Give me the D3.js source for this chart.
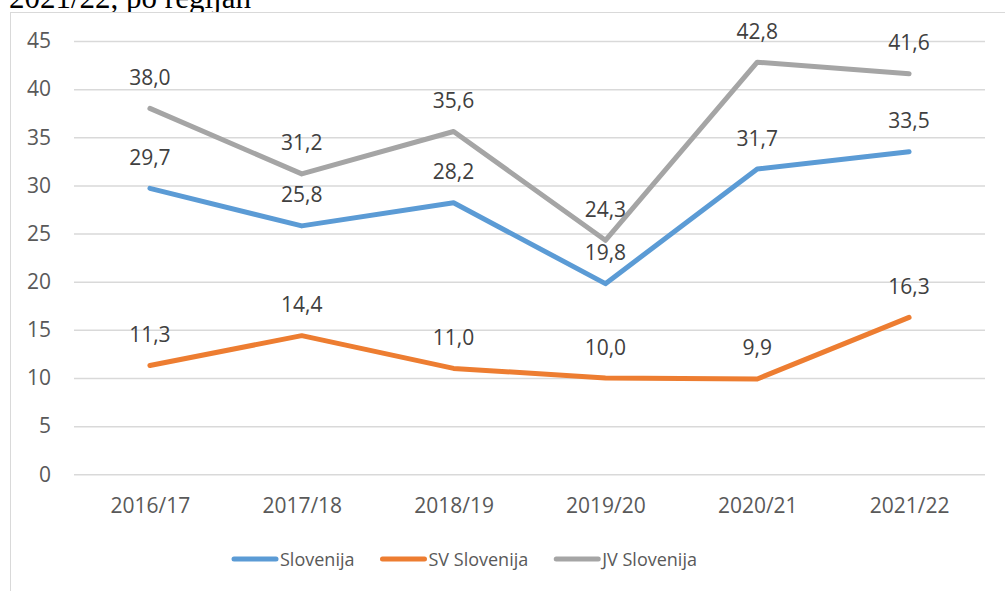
<!DOCTYPE html>
<html>
<head>
<meta charset="utf-8">
<script src="https://cdn.jsdelivr.net/npm/d3@7"></script>
<style>
  body { margin: 0; background: #fff; }
  svg { display: block; }
</style>
</head>
<body>
<svg width="1005" height="591"></svg>
<script>
// years on the x axis
var categories = ['2016/17', '2017/18', '2018/19', '2019/20', '2020/21', '2021/22']
var slovenija = [29.7, 25.8, 28.2, 19.8, 31.7, 33.5]
var svSlovenija = [11.3, 14.4, 11.0, 10.0, 9.9, 16.3]
var jvSlovenija = [38.0, 31.2, 35.6, 24.3, 42.8, 41.6]
var yTicks = [0, 5, 10, 15, 20, 25, 30, 35, 40, 45]
var seriesNames = ['Slovenija', 'SV Slovenija', 'JV Slovenija']

var series = [
    { name: seriesNames[0], values: slovenija, color: '#5B9BD5' },
    { name: seriesNames[1], values: svSlovenija, color: '#ED7D31' },
    { name: seriesNames[2], values: jvSlovenija, color: '#A5A5A5' }
]

var svg = d3.select('svg')
var font = "'Open Sans', sans-serif"

// title text, cut off by the chart box
svg.append('text')
    .attr('x', 9)
    .attr('y', 8)
    .style('font-family', "'Liberation Serif', 'Times New Roman', serif")
    .style('font-size', '31px')
    .attr('fill', '#000')
    .text('2021/22, po regijah')

// chart box
svg.append('rect')
    .attr('x', 10.5)
    .attr('y', 12.5)
    .attr('width', 1010)
    .attr('height', 600)
    .attr('fill', '#fff')
    .attr('stroke', '#D9D9D9')
    .attr('stroke-width', 1)

var x_scale = d3.scalePoint()
    .domain(categories)
    .range([74, 985])
    .padding(0.5)

var y_scale = d3.scaleLinear()
    .domain([0, 45])
    .range([474.3, 41])

// gridlines + y labels
var y_axis = d3.axisLeft(y_scale)
    .tickValues(yTicks)
    .tickSize(-(985 - 74))
    .tickPadding(23)
    .tickFormat(d3.format('d'))

var gy = svg.append('g')
    .attr('transform', 'translate(74,0)')
    .call(y_axis)
gy.select('.domain').remove()
gy.selectAll('.tick line').attr('stroke', '#D9D9D9').attr('stroke-width', 1.5)
gy.selectAll('.tick text')
    .attr('fill', '#595959')
    .style('font-family', font)
    .style('font-size', '21px')

// x labels
var x_axis = d3.axisBottom(x_scale)
    .tickSize(0)
    .tickPadding(0)

var gx = svg.append('g')
    .attr('transform', 'translate(0,474.3)')
    .call(x_axis)
gx.select('.domain').remove()
gx.selectAll('.tick text')
    .attr('fill', '#595959')
    .attr('dy', null)
    .attr('y', 39)
    .style('font-family', font)
    .style('font-size', '21px')

var line = d3.line()
    .x(function (d, i) { return x_scale(categories[i]) })
    .y(function (d) { return y_scale(d) })

var fmt = function (v) { return d3.format('.1f')(v).replace('.', ',') }

// lines first, labels on top
series.forEach(function (s) {
    svg.append('path')
        .datum(s.values)
        .attr('d', line)
        .attr('fill', 'none')
        .attr('stroke', s.color)
        .attr('stroke-width', 5)
        .attr('stroke-linecap', 'round')
        .attr('stroke-linejoin', 'round')
})

series.forEach(function (s) {
    svg.append('g')
        .selectAll('text')
        .data(s.values)
        .enter()
        .append('text')
        .attr('x', function (d, i) { return x_scale(categories[i]) })
        .attr('y', function (d) { return y_scale(d) - 23.5 })
        .attr('text-anchor', 'middle')
        .attr('fill', '#404040')
        .style('font-family', font)
        .style('font-size', '21px')
        .text(fmt)
})

// legend
var legend = svg.append('g')
var lx = 232
var ly = 559
series.forEach(function (s) {
    legend.append('line')
        .attr('x1', lx + 2)
        .attr('x2', lx + 44)
        .attr('y1', ly)
        .attr('y2', ly)
        .attr('stroke', s.color)
        .attr('stroke-width', 5)
        .attr('stroke-linecap', 'round')
    var t = legend.append('text')
        .attr('x', lx + 48)
        .attr('y', ly + 6.5)
        .attr('fill', '#595959')
        .style('font-family', font)
        .style('font-size', '18px')
        .text(s.name)
    lx += 48 + t.node().getComputedTextLength() + 26
})
</script>
</body>
</html>
